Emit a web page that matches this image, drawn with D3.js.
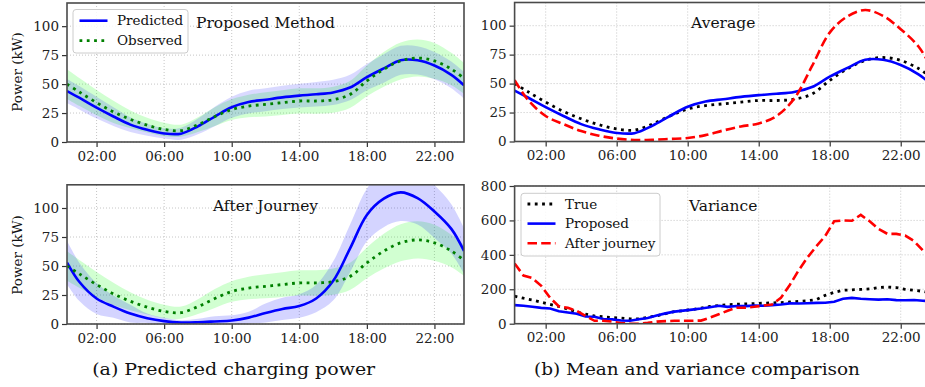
<!DOCTYPE html>
<html>
<head>
<meta charset="utf-8">
<script src="https://cdn.jsdelivr.net/npm/d3@7"></script>
<style>
  body { margin: 0; background: #fff; }
  svg { display: block; }
  text { font-family: "DejaVu Serif", "Liberation Serif", serif; }
</style>
</head>
<body>
<svg id="chart" width="925" height="387"></svg>
<script>
// hourly samples for the mean curves (00:15 .. 23:45)
const hours = [0.25, 1, 2, 3, 4, 5, 6, 7, 8, 9, 10, 11, 12, 13, 14, 15, 16, 17, 18, 19, 20, 21, 22, 23, 23.75];

const meanPred    = [44, 38, 29.6, 22, 15, 10.5, 7.4, 7.2, 13.5, 22, 30, 34.5, 36.5, 38.5, 40, 41.2, 42.8, 47, 56, 63.5, 70.5, 70.5, 66, 58, 49];
const meanTrue    = [50, 43, 34, 26, 19.6, 14.5, 10.8, 9.8, 15, 22, 28, 31, 32.5, 34, 35.4, 35.4, 36.5, 41, 52.7, 62.8, 70, 72.5, 70, 63, 55];
const meanJourney = [53, 36, 22, 15, 9, 5, 2.5, 1.3, 1.5, 2.2, 3, 5.5, 9.5, 13, 15.5, 22, 37, 65, 94, 108, 113.5, 108.5, 97, 82, 63];

// band half widths (kW)
const stdPred    = [10.4, 10.1, 9.4, 8.1, 6.4, 5.2, 4.4, 5.2, 6.8, 8.4, 9.1, 9.8, 10, 10.1, 10.2, 10.6, 10.9, 11, 11.3, 12.3, 12.5, 12.2, 11.8, 11.6, 11.5];
const stdTrue    = [12.8, 12, 10.9, 9.6, 7.7, 6.4, 5.9, 5.2, 6.4, 8.1, 8.9, 9.7, 10.4, 10.7, 10.9, 11, 11.3, 11.7, 13.3, 15, 16, 16, 15.5, 14, 13.3];
const stdJourney = [18.7, 16.4, 13.3, 9.6, 7.7, 4.1, 2.8, 2, 3, 4.5, 4.5, 5, 8.1, 9.6, 10.1, 11.8, 16.8, 20.5, 22.7, 24.5, 24.8, 22.8, 22.8, 21.2, 19.7];

// half hourly samples for the variance curves
const varHours = [0.25, 0.75, 1.25, 1.75, 2.25, 2.75, 3.25, 3.75, 4.25, 4.75, 5.25, 5.75, 6.25, 6.75, 7.25, 7.75,
                  8.25, 8.75, 9.25, 9.75, 10.25, 10.75, 11.25, 11.75, 12.25, 12.75, 13.25, 13.75, 14.25, 14.75, 15.25, 15.75,
                  16.25, 16.75, 17.25, 17.75, 18.25, 18.75, 19.25, 19.75, 20.25, 20.75, 21.25, 21.75, 22.25, 22.75, 23.25, 23.75];

const varTrue = [160, 148, 138, 125, 112, 100, 85, 68, 55, 45, 40, 36, 33, 28, 28, 36,
                 46, 58, 70, 76, 82, 90, 100, 106, 110, 113, 115, 117, 119, 121, 123, 126,
                 130, 133, 140, 165, 182, 194, 197, 199, 202, 210, 213, 210, 200, 194, 188, 178];
const varPred = [108, 104, 98, 92, 88, 72, 65, 58, 42, 40, 27, 25, 19, 17, 26, 33,
                 47, 60, 70, 76, 82, 88, 96, 104, 98, 103, 102, 105, 104, 108, 112, 118,
                 117, 119, 121, 122, 128, 145, 150, 145, 142, 140, 142, 137, 136, 138, 133, 132];
const varJourney = [350, 280, 265, 220, 150, 100, 92, 75, 45, 17, 17, 12, 3, 0, 0, 5,
                    12, 15, 17, 17, 17, 18, 35, 55, 75, 93, 93, 98, 105, 112, 150, 225,
                    310, 385, 450, 510, 595, 600, 598, 632, 595, 550, 522, 522, 512, 480, 425, 390];

const xTicks = [2, 6, 10, 14, 18, 22];
const meanTicks = [0, 25, 50, 75, 100];
const varTicks = [0, 200, 400, 600, 800];

const svg = d3.select("#chart");
const fmtHour = h => (h < 10 ? "0" : "") + h + ":00";
const SERIF = "DejaVu Serif";

const BLUE = "#0000ff", GREEN = "#008000", RED = "#ff0000";
const smooth = d3.curveCatmullRom.alpha(0.5);

// panels
const panels = {
  tl: { x: [67, 464],      y: [142, 3],     yMax: 120, yTicks: meanTicks },
  tr: { x: [514.6, 931.8], y: [141.5, 2.5], yMax: 120, yTicks: meanTicks },
  bl: { x: [67, 464],      y: [324, 184.8], yMax: 120, yTicks: meanTicks },
  br: { x: [514.6, 931.8], y: [323.7, 186], yMax: 800, yTicks: varTicks }
};

function setupPanel(key) {
  const p = panels[key];
  p.xs = d3.scaleLinear().domain([0.25, 23.75]).range(p.x);
  p.ys = d3.scaleLinear().domain([0, p.yMax]).range(p.y);

  svg.append("clipPath").attr("id", "clip-" + key)
     .append("rect")
     .attr("x", p.x[0]).attr("y", p.y[1])
     .attr("width", p.x[1] - p.x[0]).attr("height", p.y[0] - p.y[1]);

  // grid
  const grid = svg.append("g").attr("stroke", "#b8b8b8").attr("stroke-width", 0.8)
                  .attr("stroke-dasharray", "1,2");
  grid.selectAll(".gx").data(xTicks).join("line")
      .attr("x1", d => p.xs(d)).attr("x2", d => p.xs(d))
      .attr("y1", p.y[0]).attr("y2", p.y[1]);
  grid.selectAll(".gy").data(p.yTicks).join("line")
      .attr("x1", p.x[0]).attr("x2", p.x[1])
      .attr("y1", d => p.ys(d)).attr("y2", d => p.ys(d));

  p.plot = svg.append("g").attr("clip-path", "url(#clip-" + key + ")");
  return p;
}

function finishPanel(p) {
  // axes
  const xAxis = svg.append("g")
      .attr("transform", `translate(0,${p.y[0]})`)
      .call(d3.axisBottom(p.xs).tickValues(xTicks).tickFormat(fmtHour).tickSize(5).tickSizeOuter(0));
  const yAxis = svg.append("g")
      .attr("transform", `translate(${p.x[0]},0)`)
      .call(d3.axisLeft(p.ys).tickValues(p.yTicks).tickSize(5).tickSizeOuter(0));
  [xAxis, yAxis].forEach(a => {
    a.attr("font-family", SERIF);
    a.select(".domain").remove();
    a.selectAll(".tick line").attr("stroke", "#333").attr("stroke-width", 1.2);
    a.selectAll(".tick text").attr("font-family", SERIF).attr("font-size", 13.5).attr("fill", "#222");
  });
  xAxis.selectAll(".tick text").attr("dy", "0.71em").attr("y", 9);
  yAxis.selectAll(".tick text").attr("x", -8);

  // frame
  svg.append("rect")
     .attr("x", p.x[0]).attr("y", p.y[1])
     .attr("width", p.x[1] - p.x[0]).attr("height", p.y[0] - p.y[1])
     .attr("fill", "none").attr("stroke", "#4a4a4a").attr("stroke-width", 1.6);
}

function band(p, mean, std, color, opacity) {
  const area = d3.area()
      .x((d, i) => p.xs(hours[i]))
      .y0((d, i) => p.ys(d - std[i]))
      .y1((d, i) => p.ys(d + std[i]))
      .curve(smooth);
  p.plot.append("path").datum(mean).attr("d", area)
        .attr("fill", color).attr("fill-opacity", opacity).attr("stroke", "none");
}

function line(p, xs, values, color, style, curve) {
  const gen = d3.line().x((d, i) => p.xs(xs[i])).y(d => p.ys(d)).curve(curve);
  const path = p.plot.append("path").datum(values).attr("d", gen)
        .attr("fill", "none").attr("stroke", color);
  styleLine(path, style);
}

function styleLine(sel, style) {
  if (style === "solid") sel.attr("stroke-width", 2.6);
  if (style === "dotted") sel.attr("stroke-width", 2.8).attr("stroke-dasharray", "2.8,4.5");
  if (style === "dashed") sel.attr("stroke-width", 2.6).attr("stroke-dasharray", "9.5,4.2");
}

function title(p, text, cy) {
  svg.append("text")
     .attr("x", (p.x[0] + p.x[1]) / 2).attr("y", cy)
     .attr("text-anchor", "middle").attr("dominant-baseline", "central")
     .attr("font-family", SERIF).attr("font-size", 15.5).attr("fill", "#111")
     .text(text);
}

function legend(x, y, w, h, items, rowY) {
  const g = svg.append("g");
  g.append("rect").attr("x", x).attr("y", y).attr("width", w).attr("height", h)
   .attr("rx", 3).attr("fill", "#fff").attr("fill-opacity", 0.85)
   .attr("stroke", "#cccccc").attr("stroke-width", 1);
  items.forEach((it, i) => {
    const ly = rowY[i];
    const l = g.append("line").attr("x1", x + 6.5).attr("x2", x + 34.5)
               .attr("y1", ly).attr("y2", ly).attr("stroke", it.color);
    styleLine(l, it.style);
    g.append("text").attr("x", x + 44).attr("y", ly).attr("dy", "0.35em")
     .attr("font-family", SERIF).attr("font-size", 13.5).attr("fill", "#111").text(it.label);
  });
}

// (a) top: proposed method
const tl = setupPanel("tl");
band(tl, meanTrue, stdTrue, "#00ff00", 0.18);
band(tl, meanPred, stdPred, BLUE, 0.15);
line(tl, hours, meanPred, BLUE, "solid", smooth);
line(tl, hours, meanTrue, GREEN, "dotted", smooth);
finishPanel(tl);
title(tl, "Proposed Method", 23);
legend(73, 9.5, 115, 43.5,
       [{ label: "Predicted", color: BLUE, style: "solid" },
        { label: "Observed", color: GREEN, style: "dotted" }],
       [20.7, 40.7]);

// (a) bottom: after journey
const bl = setupPanel("bl");
band(bl, meanTrue, stdTrue, "#00ff00", 0.18);
band(bl, meanJourney, stdJourney, BLUE, 0.17);
line(bl, hours, meanJourney, BLUE, "solid", smooth);
line(bl, hours, meanTrue, GREEN, "dotted", smooth);
finishPanel(bl);
title(bl, "After Journey", 206);

// (b) top: average
const tr = setupPanel("tr");
line(tr, hours, meanTrue, "#000", "dotted", smooth);
line(tr, hours, meanPred, BLUE, "solid", smooth);
line(tr, hours, meanJourney, RED, "dashed", smooth);
finishPanel(tr);
title(tr, "Average", 23);

// (b) bottom: variance
const br = setupPanel("br");
line(br, varHours, varTrue, "#000", "dotted", d3.curveLinear);
line(br, varHours, varPred, BLUE, "solid", d3.curveLinear);
line(br, varHours, varJourney, RED, "dashed", d3.curveLinear);
finishPanel(br);
title(br, "Variance", 205.7);
legend(521, 193.3, 139, 62.7,
       [{ label: "True", color: "#000", style: "dotted" },
        { label: "Proposed", color: BLUE, style: "solid" },
        { label: "After journey", color: RED, style: "dashed" }],
       [204, 223.6, 243.2]);

// y labels
[72, 255].forEach(cy => {
  svg.append("text")
     .attr("transform", `translate(17,${cy}) rotate(-90)`)
     .attr("text-anchor", "middle").attr("dominant-baseline", "central")
     .attr("font-family", SERIF).attr("font-size", 13.5).attr("fill", "#111").text("Power (kW)");
});

// captions
[[233.7, 283, "(a) Predicted charging power"], [697, 326, "(b) Mean and variance comparison"]].forEach(([cx, len, t]) => {
  svg.append("text")
     .attr("x", cx - len / 2).attr("y", 375)
     .attr("textLength", len).attr("lengthAdjust", "spacingAndGlyphs")
     .attr("font-family", "Liberation Serif").attr("font-size", 17).attr("fill", "#111")
     .text(t);
});
</script>
</body>
</html>
